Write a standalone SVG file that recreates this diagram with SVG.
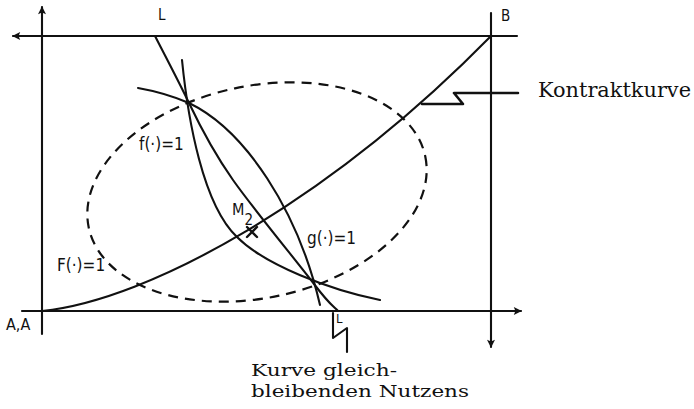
<svg xmlns="http://www.w3.org/2000/svg" width="694" height="409" viewBox="0 0 694 409">
<style>
.ln{fill:none;stroke:#111;stroke-width:2.1;stroke-linecap:round;stroke-linejoin:round}
.ds{fill:none;stroke:#111;stroke-width:2.2;stroke-dasharray:10 7}
.lb{font-family:"DejaVu Sans Condensed","Liberation Sans",sans-serif;font-size:17px;fill:#111}
.sl{font-family:"DejaVu Serif","Liberation Serif",serif;font-size:20px;fill:#111}
.sb{font-family:"DejaVu Serif","Liberation Serif",serif;font-size:17px;fill:#111}
</style>
<defs>
<marker id="ah" viewBox="0 0 10 10" refX="9" refY="5" markerWidth="10" markerHeight="8" markerUnits="userSpaceOnUse" orient="auto">
<path d="M0,0 L10,5 L0,10 L2,5 Z" fill="#111"/>
</marker>
</defs>
<rect width="694" height="409" fill="#fff"/>
<g id="axes">
<line class="ln" x1="517" y1="36" x2="13" y2="36" marker-end="url(#ah)"/>
<line class="ln" x1="42" y1="334" x2="42" y2="7" marker-end="url(#ah)"/>
<line class="ln" x1="22" y1="311" x2="521" y2="311" marker-end="url(#ah)"/>
<line class="ln" x1="491" y1="13" x2="491" y2="347" marker-end="url(#ah)"/>
</g>
<g id="ellipse">
<ellipse class="ds" cx="257" cy="192" rx="172" ry="106" transform="rotate(-12 257 192)"/>
</g>
<g id="connectors">
<path id="kontraktkurve" class="ln" d="M42,311 C150,300 330,200 491,36"/>
<path id="arc-f" class="ln" d="M182,60 C188,120 203,205 237,237 C265,265 330,290 380,300"/>
<path id="arc-g" class="ln" d="M138,88 C155,91 175,97 189,103 C245,130 298,210 320,305"/>
<path id="line-L" class="ln" d="M155,36 C160.7,47.2 178.7,81.3 189,103 C199.3,124.7 212.2,150.5 233,180 C253.8,209.5 297.5,262.2 314,284 C330.5,305.8 334,306.5 338,311"/>
<polyline class="ln" points="422,104 463,104 454,93 518,93" style="stroke-width:2.6"/>
<polyline class="ln" points="333,313 333,338 347,328 347,352"/>
<path class="ln" d="M247,227 L257,237 M257,227 L247,237" style="stroke-width:2.4"/>
</g>
<g id="labels">
<text class="lb" x="158" y="20" style="font-size:15px">L</text>
<text class="lb" x="501" y="21" style="font-size:15px">B</text>
<text class="lb" x="139" y="150">f(·)=1</text>
<text class="lb" x="307" y="244">g(·)=1</text>
<text class="lb" x="57" y="271">F(·)=1</text>
<text class="lb" x="232" y="215" style="font-size:16px">M<tspan dy="10" style="font-size:15px">2</tspan></text>
<text class="lb" x="6" y="330" style="font-size:16px">A,A</text>
<text class="lb" x="336" y="323" style="font-size:13px">L</text>
<text class="sl" x="538" y="97" textLength="153" lengthAdjust="spacingAndGlyphs">Kontraktkurve</text>
<text class="sb" x="251" y="376" textLength="146" lengthAdjust="spacingAndGlyphs">Kurve gleich-</text>
<text class="sb" x="251" y="397" textLength="218" lengthAdjust="spacingAndGlyphs">bleibenden Nutzens</text>
</g>
</svg>
